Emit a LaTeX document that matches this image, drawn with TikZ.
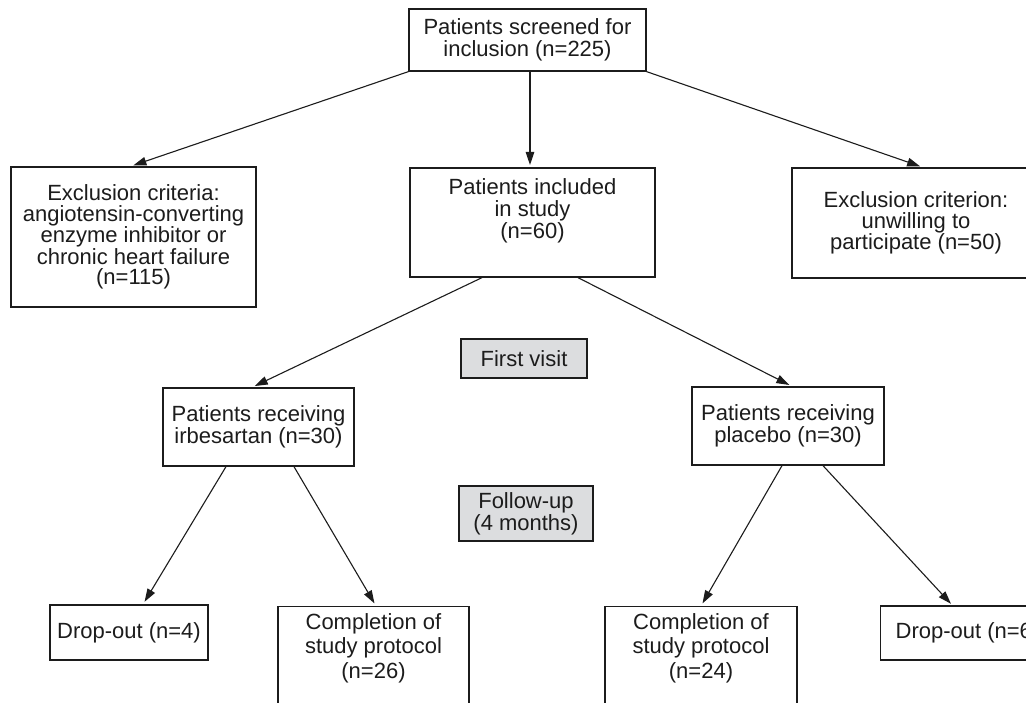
\documentclass[tikz,border=0pt]{standalone}
\usepackage{fontspec}
\setmainfont{Liberation Sans}
\usetikzlibrary{arrows.meta}
\definecolor{ink}{HTML}{1C1C1C}
\definecolor{boxgray}{HTML}{DCDDDF}
\begin{document}
\begin{tikzpicture}[x=1pt,y=-1pt,
  box/.style={draw=ink, line width=1.3pt, text=ink, align=center, inner sep=0pt,
    font=\fontsize{22}{22}\selectfont},
  graybox/.style={box, fill=boxgray},
  txt/.style={text=ink, align=center, inner sep=0pt, font=\fontsize{22}{24.5}\selectfont},
  arr/.style={draw=ink, line width=1.1pt, -{Triangle[length=13pt,width=8.5pt]}, shorten >=3pt}]
\useasboundingbox (0,0) rectangle (1026,703);
\clip (0,0) rectangle (1026,703);
\fill[white] (0,0) rectangle (1026,703);

\node[box, minimum width=237pt, minimum height=62pt] (top) at (527.5,40) {Patients screened for\\inclusion (n=225)};
\node[box, minimum width=245pt, minimum height=109pt] (incl) at (532.5,222.5) {Patients included\\in study\\(n=60)\\[6pt]};
\node[box, minimum width=245pt, minimum height=140pt, font=\fontsize{22}{20.5}\selectfont] (exl) at (133.5,237) {Exclusion criteria:\\angiotensin-converting\\enzyme inhibitor or\\chronic heart failure\\(n=115)};
\node[box, minimum width=248pt, minimum height=110pt, font=\fontsize{22}{21}\selectfont] (exr) at (916,223) {Exclusion criterion:\\unwilling to\\participate (n=50)};

\node[graybox, minimum width=126pt, minimum height=39pt] (first) at (524,358.5) {First visit};
\node[graybox, minimum width=134pt, minimum height=55pt] (follow) at (526,513.5) {Follow-up\\(4 months)};

\node[box, minimum width=191pt, minimum height=78pt] (irb) at (258.5,427) {Patients receiving\\irbesartan (n=30)};
\node[box, minimum width=192pt, minimum height=78pt] (plc) at (788,426) {Patients receiving\\placebo (n=30)};

\node[box, minimum width=158pt, minimum height=55pt] (d1) at (129,632.5) {Drop-out (n=4)};
\node[box, minimum width=191pt, minimum height=134pt, anchor=north] (c1) at (373.5,606) {};
\node[txt] (c1t) at (373.5,648) {Completion of\\study protocol\\(n=26)};
\node[box, minimum width=192pt, minimum height=134pt, anchor=north] (c2) at (701,606) {};
\node[txt] (c2t) at (701,648) {Completion of\\study protocol\\(n=24)};
\node[box, minimum width=160pt, minimum height=54pt, anchor=west, inner xsep=15pt] (d2) at (880,633) {Drop-out (n=6)};

\draw[arr] (top.south -| 530,0) -- (530,168);
\draw[arr] (top.south west) -- ([xshift=-3pt]exl.north);
\draw[arr] (top.south east) -- ([xshift=7pt]exr.north);
\draw[arr] ([xshift=-50.5pt]incl.south) -- ([xshift=-6.5pt]irb.north);
\draw[arr] ([xshift=45.5pt]incl.south) -- ([xshift=4pt]plc.north);
\draw[arr] ([xshift=-32.5pt]irb.south) -- ([xshift=14pt]d1.north);
\draw[arr] ([xshift=35.5pt]irb.south) -- ([xshift=2.5pt]c1.north);
\draw[arr] ([xshift=-6pt]plc.south) -- (c2.north);
\draw[arr] ([xshift=35pt]plc.south) -- (953,606);
\end{tikzpicture}
\end{document}
